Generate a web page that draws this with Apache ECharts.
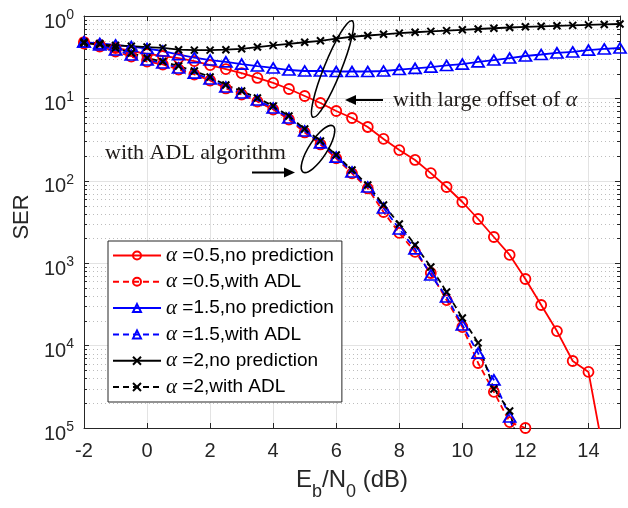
<!DOCTYPE html>
<html><head><meta charset="utf-8">
<script src="https://cdn.jsdelivr.net/npm/echarts@6/dist/echarts.min.js"></script>
<style>html,body{margin:0;padding:0;background:#fff}#c{width:628px;height:508px}</style>
</head><body><div id="c"></div>
<script>
// ---- data ----
const snr = [-2,-1.5,-1,-0.5,0,0.5,1,1.5,2,2.5,3,3.5,4,4.5,5,5.5,6,6.5,7,7.5,8,8.5,9,9.5,10,10.5,11,11.5,12,12.5,13,13.5,14,14.5,15];
const snrADL = [-2,-1.5,-1,-0.5,0,0.5,1,1.5,2,2.5,3,3.5,4,4.5,5,5.5,6,6.5,7,7.5,8,8.5,9,9.5,10,10.5,11,11.5,12];

const serA05NoPred = [0.483,0.445,0.409,0.376,0.346,0.327,0.309,0.284,0.254,0.227,0.203,0.177,0.154,0.130,0.107,0.0879,0.0703,0.0578,0.0450,0.0322,0.0236,0.0179,0.0124,0.00841,0.00553,0.00344,0.00208,0.00126,6.43e-4,3.11e-4,1.50e-4,6.50e-5,4.79e-5,4.5e-6];
const serA05ADL = [0.464,0.426,0.371,0.322,0.280,0.258,0.224,0.195,0.165,0.132,0.1115,0.0917,0.0733,0.0554,0.0386,0.0276,0.0187,0.0123,0.00807,0.00418,0.00233,0.00137,7.6e-4,3.57e-4,1.68e-4,6.15e-5,2.74e-5,1.18e-5,1.0e-5];
const serA15NoPred = [0.483,0.464,0.445,0.426,0.403,0.376,0.34,0.313,0.292,0.277,0.261,0.247,0.234,0.221,0.215,0.215,0.212,0.212,0.212,0.215,0.224,0.231,0.240,0.251,0.261,0.277,0.292,0.309,0.327,0.341,0.356,0.366,0.386,0.398,0.409];
const serA15ADL = [0.483,0.445,0.387,0.336,0.292,0.269,0.234,0.203,0.172,0.1375,0.1163,0.0956,0.0764,0.0578,0.0402,0.0288,0.0194,0.0128,0.00841,0.00468,0.00260,0.00149,7.2e-4,3.89e-4,1.78e-4,8.1e-5,3.83e-5,1.36e-5,2.8e-6];
const serA2NoPred = [0.47,0.45,0.44,0.43,0.42,0.41,0.39,0.385,0.385,0.39,0.40,0.42,0.44,0.46,0.48,0.50,0.53,0.56,0.58,0.60,0.62,0.635,0.65,0.665,0.68,0.695,0.71,0.725,0.74,0.75,0.76,0.77,0.78,0.79,0.80];
const serA2ADL = [0.483,0.464,0.409,0.356,0.309,0.280,0.247,0.215,0.182,0.1455,0.123,0.1011,0.0809,0.0611,0.0425,0.0304,0.0206,0.0135,0.00889,0.00508,0.00299,0.00166,9.0e-4,4.47e-4,2.16e-4,1.08e-4,2.97e-5,1.61e-5,2.8e-6];

const seriesNames = ['α =0.5,no prediction','α =0.5,with ADL','α =1.5,no prediction','α =1.5,with ADL','α =2,no prediction','α =2,with ADL'];
const yTickValues = [1,1e-1,1e-2,1e-3,1e-4,1e-5];
const yTickSup = ['0','1','2','3','4','5'];
const xMin = -2, xMax = 15, xStep = 2;
const yMin = 1e-5, yMax = 1;
const minorMantissa = [2,3,4,5,6,7,8,9];
const minorExps = [-5,-4,-3,-2,-1];

function pairs(xs, ys){ return ys.map((y,i)=>[xs[i], y]); }
const minorVals = [];
minorExps.forEach(e => minorMantissa.forEach(m => minorVals.push([xMin, m*Math.pow(10,e)])));

const AX = '#262626';
const cross = 'path://M0,0L10,10M10,0L0,10';

function lineSeries(name, xs, ys, color, dashed, symbol, size){
  return {
    name: name, type: 'line', data: pairs(xs, ys),
    symbol: symbol, symbolSize: size, clip: true,
    lineStyle: {color: color, width: 1.8, type: dashed ? [6,4] : 'solid'},
    itemStyle: {color: symbol === cross ? color : 'rgba(0,0,0,0)', borderColor: color, borderWidth: symbol === cross ? 2 : 1.8},
    emphasis: {disabled: true}, z: 3
  };
}

const chart = echarts.init(document.getElementById('c'), null, {renderer: 'canvas'});
const option = {
  animation: false,
  backgroundColor: '#fff',
  grid: {left: 84, right: 8, top: 16, bottom: 80},
  xAxis: [{
    type: 'value', min: xMin, max: xMax, interval: xStep, position: 'bottom',
    axisLine: {show: true, onZero: false, lineStyle: {color: AX, width: 1}},
    axisTick: {show: true, inside: true, length: 5, lineStyle: {color: AX}},
    axisLabel: {show: true, margin: 13, fontSize: 20, color: AX, fontFamily: 'Liberation Sans', showMaxLabel: false, formatter: v => String(v)},
    splitLine: {show: true, lineStyle: {color: '#e3e3e3', width: 1}},
    name: '{n|E}{s|b}{n|/N}{s|0}{n| (dB)}', nameLocation: 'middle', nameGap: 40,
    nameTextStyle: {color: AX, fontFamily: 'Liberation Sans', rich: {
      n: {fontSize: 24, lineHeight: 33, verticalAlign: 'top', fontFamily: 'Liberation Sans', color: AX},
      s: {fontSize: 18, lineHeight: 33, verticalAlign: 'bottom', fontFamily: 'Liberation Sans', color: AX}
    }}
  }, {
    type: 'value', min: xMin, max: xMax, interval: xStep, position: 'top',
    axisLine: {show: true, onZero: false, lineStyle: {color: AX, width: 1}},
    axisTick: {show: true, inside: true, length: 5, lineStyle: {color: AX}},
    axisLabel: {show: false}, splitLine: {show: false}
  }],
  yAxis: [{
    type: 'log', logBase: 10, min: yMin, max: yMax, splitNumber: 5, position: 'left',
    axisLine: {show: true, onZero: false, lineStyle: {color: AX, width: 1}},
    axisTick: {show: true, inside: true, length: 5, lineStyle: {color: AX}},
    axisLabel: {
      margin: 10, padding: [8, 0, 0, 0],
      formatter: function(v){
        let idx = 0, best = 1e9;
        yTickValues.forEach((t,i)=>{ const d = Math.abs(Math.log10(t) - Math.log10(v)); if (d < best){best = d; idx = i;} });
        return '{b|10}{s|' + yTickSup[idx] + '}';
      },
      rich: {
        b: {fontSize: 20, lineHeight: 24, verticalAlign: 'bottom', fontFamily: 'Liberation Sans', color: AX},
        s: {fontSize: 14, lineHeight: 24, verticalAlign: 'top', fontFamily: 'Liberation Sans', color: AX}
      }
    },
    splitLine: {show: true, lineStyle: {color: '#e3e3e3', width: 1}},
    name: 'SER', nameLocation: 'middle', nameGap: 50, nameRotate: 90,
    nameTextStyle: {fontSize: 22, color: AX, fontFamily: 'Liberation Sans', padding: [0, 0, 0, 10]}
  }, {
    type: 'log', logBase: 10, min: yMin, max: yMax, splitNumber: 5, position: 'right',
    axisLine: {show: true, onZero: false, lineStyle: {color: AX, width: 1}},
    axisTick: {show: true, inside: true, length: 5, lineStyle: {color: AX}},
    axisLabel: {show: false}, splitLine: {show: false}
  }],
  legend: {
    orient: 'vertical', left: 108, top: 241,
    data: seriesNames,
    itemWidth: 48, itemHeight: 10, itemGap: 5.3,
    padding: [4, 8, 4.5, 4],
    borderColor: AX, borderWidth: 1, borderRadius: 0, backgroundColor: '#fff',
    selectedMode: false,
    formatter: n => n.replace('α', '{a|α}'),
    textStyle: {fontSize: 19, lineHeight: 20, color: '#000', fontFamily: 'Liberation Sans',
      rich: {a: {fontSize: 21, lineHeight: 20, fontStyle: 'italic', fontFamily: 'Liberation Serif', color: '#000'}}}
  },
  series: [
    {
      type: 'custom', silent: true, z: 1, clip: false,
      data: minorVals,
      renderItem: function(params, api){
        const v = api.value(1);
        const p1 = api.coord([xMin, v]), p2 = api.coord([xMax, v]);
        const y = Math.round(p1[1]) + 0.5;
        return {type: 'group', children: [
          {type: 'line', shape: {x1: p1[0]+1, y1: y, x2: p2[0]-1, y2: y}, style: {stroke: '#bdbdbd', lineWidth: 1, lineDash: [1, 3]}},
          {type: 'line', shape: {x1: p1[0], y1: y, x2: p1[0]+3, y2: y}, style: {stroke: AX, lineWidth: 1}},
          {type: 'line', shape: {x1: p2[0]-3, y1: y, x2: p2[0], y2: y}, style: {stroke: AX, lineWidth: 1}}
        ]};
      }
    },
    lineSeries(seriesNames[0], snr, serA05NoPred, '#ff0000', false, 'circle', 10),
    lineSeries(seriesNames[1], snrADL, serA05ADL, '#ff0000', true, 'circle', 10),
    lineSeries(seriesNames[2], snr, serA15NoPred, '#0000ff', false, 'triangle', [12, 10]),
    lineSeries(seriesNames[3], snrADL, serA15ADL, '#0000ff', true, 'triangle', [12, 10]),
    lineSeries(seriesNames[4], snr, serA2NoPred, '#000000', false, cross, 7),
    lineSeries(seriesNames[5], snrADL, serA2ADL, '#000000', true, cross, 7)
  ],
  graphic: [
    {type: 'ellipse', x: 332.5, y: 69, rotation: -22*Math.PI/180, shape: {cx: 0, cy: 0, rx: 8.5, ry: 52}, style: {fill: 'none', stroke: '#000', lineWidth: 1.6}, z: 10},
    {type: 'ellipse', x: 318, y: 149, rotation: -33*Math.PI/180, shape: {cx: 0, cy: 0, rx: 9, ry: 27.5}, style: {fill: 'none', stroke: '#000', lineWidth: 1.6}, z: 10},
    {type: 'line', shape: {x1: 383, y1: 100, x2: 352, y2: 100}, style: {stroke: '#000', lineWidth: 2}, z: 10},
    {type: 'polygon', shape: {points: [[345,100],[356,95],[356,105]]}, style: {fill: '#000'}, z: 10},
    {type: 'line', shape: {x1: 252, y1: 172.5, x2: 288, y2: 172.5}, style: {stroke: '#000', lineWidth: 2}, z: 10},
    {type: 'polygon', shape: {points: [[295,172.5],[284,167.5],[284,177.5]]}, style: {fill: '#000'}, z: 10},
    {type: 'text', x: 393, y: 100, z: 10, style: {
      text: '{r|with large offset of }{i|α}', textVerticalAlign: 'middle', verticalAlign: 'middle',
      rich: {r: {fontSize: 22, fontFamily: 'Liberation Serif', fill: '#1e1a18', color: '#1e1a18'},
             i: {fontSize: 22, fontFamily: 'Liberation Serif', fontStyle: 'italic', fill: '#1e1a18', color: '#1e1a18'}}
    }},
    {type: 'text', x: 105, y: 153, z: 10, style: {
      text: 'with ADL algorithm', font: '22px "Liberation Serif"', fill: '#1e1a18', textVerticalAlign: 'middle', verticalAlign: 'middle'
    }}
  ]
};
chart.setOption(option);
</script>
</body></html>
